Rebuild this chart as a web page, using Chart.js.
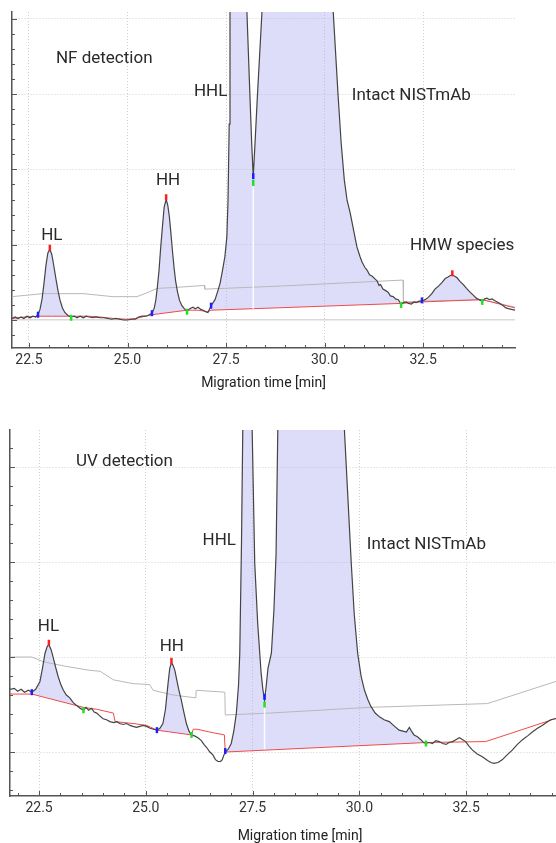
<!DOCTYPE html>
<html>
<head>
<meta charset="utf-8">
<style>
  body { margin: 0; background: #fff; overflow: hidden; width: 556px; height: 843px; }
  #nf { position: absolute; left: 0; top: 0; }
  #uv { position: absolute; left: 0; top: 400px; }
</style>
<script src="https://cdn.jsdelivr.net/npm/chart.js@4"></script>
</head>
<body>
<canvas id="nf" width="556" height="400"></canvas>
<canvas id="uv" width="600" height="443"></canvas>
<script>
// shared x axis
const xTickValues = [22.5, 25.0, 27.5, 30.0, 32.5];
const xTickLabels = ['22.5', '25.0', '27.5', '30.0', '32.5'];

// ---------- NF detection (top) ----------
const nfGridY = [0, 1, 2, 3, 4];
const nfSignal = [
  [22.07,0.02],[22.15,0.04],[22.22,0.02],[22.30,0.04],[22.37,0.02],[22.45,0.05],[22.53,0.03],[22.60,0.05],[22.67,0.04],[22.73,0.07],
  [22.78,0.14],[22.83,0.27],[22.88,0.48],[22.93,0.72],[22.98,0.89],[23.03,0.94],[23.08,0.87],[23.13,0.72],[23.19,0.53],[23.24,0.38],
  [23.29,0.26],[23.35,0.16],[23.41,0.10],[23.49,0.06],[23.57,0.04],
  [23.65,0.05],[23.72,0.03],[23.80,0.05],[23.88,0.03],[23.95,0.05],[24.03,0.04],[24.12,0.03],[24.20,0.04],[24.30,0.03],[24.40,0.03],
  [24.50,0.02],[24.60,0.01],[24.70,0.02],[24.80,0.01],[24.90,0.00],[25.00,0.00],[25.10,0.01],[25.20,0.01],[25.28,0.04],[25.37,0.05],
  [25.45,0.05],[25.52,0.06],[25.62,0.09],
  [25.68,0.16],[25.72,0.27],[25.76,0.45],[25.80,0.66],[25.84,0.95],[25.88,1.20],[25.93,1.50],[25.98,1.60],[26.02,1.53],[26.06,1.38],
  [26.10,1.16],[26.14,0.92],[26.18,0.70],[26.22,0.52],[26.27,0.37],[26.32,0.26],[26.38,0.19],[26.44,0.15],[26.51,0.12],
  [26.58,0.15],[26.66,0.17],[26.72,0.15],[26.79,0.17],[26.86,0.14],[26.92,0.13],[26.98,0.11],[27.04,0.10],[27.12,0.19],
  [27.22,0.27],[27.30,0.40],[27.35,0.49],[27.41,0.66],[27.47,0.84],[27.52,1.10],[27.55,1.59],[27.58,2.60],[27.60,4.08],[27.70,6.2],
  [27.82,7.0],[27.93,5.8],[28.03,4.08],[28.11,2.92],[28.15,2.35],[28.19,1.90],[28.24,2.40],[28.29,2.92],[28.41,4.08],[28.70,10],
  [29.10,14],[29.60,11],[30.00,6.5],[30.22,4.08],[30.34,3.00],[30.42,2.35],[30.50,1.86],[30.57,1.59],[30.65,1.42],[30.74,1.18],
  [30.82,0.97],[30.90,0.84],[30.95,0.77],[31.02,0.70],[31.08,0.66],[31.14,0.60],[31.21,0.58],[31.27,0.55],[31.33,0.52],[31.38,0.46],
  [31.42,0.47],[31.48,0.41],[31.55,0.39],[31.61,0.37],[31.67,0.32],[31.74,0.31],[31.80,0.28],[31.87,0.27],[31.94,0.21],
  [32.00,0.23],[32.07,0.24],[32.13,0.22],[32.20,0.21],[32.27,0.24],[32.32,0.23],[32.40,0.25],[32.47,0.25],
  [32.55,0.27],[32.63,0.30],[32.72,0.35],[32.80,0.41],[32.89,0.45],[32.98,0.50],[33.06,0.55],[33.13,0.57],[33.19,0.59],[33.24,0.60],
  [33.30,0.58],[33.36,0.56],[33.44,0.51],[33.52,0.47],[33.60,0.42],[33.69,0.37],[33.77,0.33],[33.85,0.29],[33.92,0.27],[34.00,0.25],
  [34.06,0.28],[34.12,0.29],[34.18,0.27],[34.25,0.28],[34.31,0.26],[34.38,0.24],[34.45,0.22],[34.53,0.19],[34.60,0.16],[34.66,0.15],
  [34.74,0.14],[34.83,0.13]
];
const nfBaseline = [
  [22.07,0.02],[22.40,0.04],[22.73,0.05],[23.10,0.05],[23.57,0.05],[24.00,0.05],[24.30,0.04],[24.65,0.02],[24.99,0.01],[25.20,0.02],
  [25.37,0.04],[25.62,0.07],[26.51,0.13],[26.79,0.13],[27.04,0.11],[27.12,0.13],[31.94,0.22],[32.47,0.24],[34.00,0.27],[34.83,0.16]
];
const nfCurrent = [
  [22.07,0.31],[22.86,0.35],[23.87,0.35],[24.63,0.31],[25.24,0.31],[25.49,0.36],[25.75,0.42],[26.15,0.43],[26.71,0.45],[26.95,0.46],
  [26.96,0.41],[28.87,0.45],[31.99,0.53],[32.00,0.24],[32.47,0.25],[34.00,0.27],[34.83,0.17]
];
const nfApex = [[23.03,0.96],[25.98,1.63],[33.24,0.62]];
const nfStart = [[22.73,0.07],[25.62,0.09],[27.12,0.19],[28.19,1.91],[32.47,0.26]];
const nfEnd = [[23.57,0.03],[26.51,0.11],[28.19,1.82],[31.94,0.20],[34.00,0.24]];
const nfPeaks = [[22.73,23.57],[25.62,26.51],[27.12,31.94],[32.47,34.00]];
const nfDrop = [[28.19,1.79],[28.19,0.15]];
const nfLabels = [
  ['NF detection', 24.41, 3.47], ['HHL', 27.11, 3.03], ['HH', 26.03, 1.85], ['HL', 23.08, 1.12],
  ['Intact NISTmAb', 32.2, 2.98], ['HMW species', 33.49, 0.99]
];

// ---------- UV detection (bottom) ----------
const uvGridY = [0, 1, 2, 3];
const uvSignal = [
  [21.82,0.66],[21.92,0.67],[22.00,0.64],[22.08,0.66],[22.16,0.63],[22.25,0.65],[22.33,0.63],
  [22.42,0.66],[22.52,0.74],[22.58,0.88],[22.64,1.04],[22.69,1.11],[22.73,1.13],[22.78,1.08],[22.83,1.00],[22.89,0.89],[22.95,0.79],
  [23.01,0.71],[23.07,0.65],[23.14,0.60],[23.22,0.57],[23.30,0.52],[23.38,0.49],[23.46,0.46],[23.54,0.44],
  [23.60,0.47],[23.66,0.44],[23.73,0.46],[23.79,0.42],[23.85,0.41],[23.92,0.38],[24.00,0.35],[24.08,0.34],[24.16,0.32],[24.25,0.31],
  [24.32,0.32],[24.39,0.30],[24.47,0.29],[24.55,0.30],[24.63,0.28],[24.70,0.27],[24.78,0.26],[24.86,0.27],[24.94,0.28],[25.02,0.27],
  [25.10,0.25],[25.18,0.24],[25.26,0.23],
  [25.33,0.25],[25.40,0.30],[25.46,0.45],[25.52,0.72],[25.56,0.88],[25.60,0.94],[25.64,0.91],[25.68,0.86],[25.72,0.77],[25.77,0.66],
  [25.83,0.55],[25.89,0.42],[25.95,0.30],[26.01,0.22],[26.07,0.18],
  [26.14,0.17],[26.22,0.15],[26.30,0.12],[26.36,0.08],[26.42,0.05],[26.50,0.00],[26.57,-0.03],[26.63,-0.08],[26.69,-0.10],[26.75,-0.10],
  [26.79,-0.08],[26.83,-0.03],[26.86,0.00],
  [26.93,0.03],[27.00,0.09],[27.06,0.22],[27.12,0.41],[27.17,0.70],[27.20,1.04],[27.24,2.20],[27.27,3.39],[27.38,5.0],[27.49,3.39],
  [27.55,1.99],[27.62,1.35],[27.70,0.83],[27.74,0.66],[27.78,0.55],[27.82,0.70],[27.86,0.88],[27.94,1.04],[28.00,1.50],[28.05,2.09],
  [28.09,3.39],[28.40,8],[28.80,12],[29.30,10],[29.65,3.39],[29.81,1.99],[29.88,1.45],[29.96,1.04],[30.04,0.80],[30.12,0.65],
  [30.20,0.55],[30.27,0.48],[30.37,0.41],[30.47,0.37],[30.58,0.34],[30.70,0.32],[30.80,0.28],[30.93,0.23],[31.02,0.22],[31.10,0.21],
  [31.17,0.26],[31.22,0.22],[31.28,0.18],[31.36,0.16],[31.44,0.13],[31.50,0.10],[31.56,0.09],
  [31.64,0.10],[31.71,0.09],[31.79,0.12],[31.87,0.11],[31.95,0.09],[32.03,0.08],[32.10,0.10],[32.18,0.11],[32.26,0.13],[32.34,0.15],
  [32.42,0.13],[32.49,0.11],[32.57,0.06],[32.65,0.02],[32.76,-0.02],[32.88,-0.05],[33.00,-0.09],[33.08,-0.11],[33.15,-0.12],[33.25,-0.11],
  [33.35,-0.08],[33.46,-0.03],[33.58,0.02],[33.70,0.08],[33.82,0.13],[33.94,0.17],[34.05,0.21],[34.17,0.25],[34.28,0.28],[34.38,0.31],
  [34.48,0.34],[34.58,0.35],[34.80,0.38],[35.10,0.42],[35.40,0.45]
];
const uvBaseline = [
  [21.82,0.61],[22.33,0.61],[23.54,0.47],[23.85,0.45],[24.24,0.41],[24.28,0.32],[24.70,0.30],[25.02,0.28],[25.26,0.23],[26.07,0.18],
  [26.11,0.24],[26.20,0.24],[26.50,0.21],[26.84,0.18],[26.86,0.00],[31.56,0.10],[32.96,0.11],[34.58,0.35],[35.40,0.45]
];
const uvCurrent = [
  [21.82,1.00],[22.33,1.00],[22.60,0.95],[23.15,0.90],[23.69,0.86],[23.93,0.85],[24.24,0.76],[24.70,0.72],[25.09,0.71],[25.17,0.65],
  [25.64,0.60],[26.17,0.57],[26.18,0.65],[26.85,0.63],[26.86,0.39],[27.90,0.41],[30.23,0.47],[33.00,0.51],[34.58,0.74],[35.40,0.86]
];
const uvApex = [[22.73,1.15],[25.60,0.96]];
const uvStart = [[22.33,0.63],[25.26,0.23],[26.86,0.01],[27.78,0.58]];
const uvEnd = [[23.54,0.44],[26.07,0.18],[27.78,0.50],[31.56,0.09]];
const uvPeaks = [[22.33,23.54],[25.26,26.07],[26.86,31.56]];
const uvDrop = [[27.78,0.47],[27.78,0.03]];
const uvLabels = [
  ['UV detection', 24.50, 3.06], ['HHL', 26.72, 2.22], ['Intact NISTmAb', 31.57, 2.18],
  ['HL', 22.72, 1.32], ['HH', 25.61, 1.11]
];

Chart.defaults.font.family = 'Roboto, sans-serif';

function pts(arr) { return arr.map(p => ({ x: p[0], y: p[1] })); }

function marker(arr, color) {
  return { data: pts(arr), showLine: false, pointStyle: 'line', rotation: 90, pointRadius: 3,
    pointBorderWidth: 2.5, pointBorderColor: color, borderColor: color };
}

function buildDatasets(sig, base, cur, apex, start, end, peaks, drop) {
  const ds = [
    marker(apex, '#ff1e1e'),
    marker(start, '#1e1eff'),
    marker(end, '#22e022'),
    { data: pts(sig), borderColor: '#444', borderWidth: 1.2 },
    { data: pts(drop), borderColor: 'rgba(255,255,255,0.9)', borderWidth: 1.5 },
    { data: pts(base), borderColor: '#f04a4a', borderWidth: 1 },
    { data: pts(cur), borderColor: '#b8b8b8', borderWidth: 1 }
  ];
  // shaded peak areas, filled down to the red baseline (dataset 5)
  peaks.forEach(r => ds.push({
    data: pts(sig.filter(p => p[0] >= r[0] && p[0] <= r[1])),
    borderWidth: 0, fill: { target: 5 }, backgroundColor: 'rgba(165,165,240,0.38)'
  }));
  return ds;
}

const peakLabels = {
  id: 'peakLabels',
  afterDatasetsDraw(chart, args, opts) {
    const { ctx, scales: { x, y } } = chart;
    ctx.save();
    ctx.font = '17px Roboto, sans-serif';
    ctx.fillStyle = '#2a2a2a';
    ctx.textAlign = 'center';
    ctx.textBaseline = 'middle';
    opts.items.forEach(l => ctx.fillText(l[0], x.getPixelForValue(l[1]), y.getPixelForValue(l[2])));
    ctx.restore();
  }
};

// tick marks drawn inside the plot, minor every 0.5 min / 0.2 units
const innerTicks = {
  id: 'innerTicks',
  afterDraw(chart) {
    const { ctx, chartArea: a, scales: { x, y } } = chart;
    ctx.save();
    ctx.strokeStyle = '#555';
    ctx.lineWidth = 1;
    ctx.beginPath();
    for (let i = Math.ceil(x.min * 2); i <= x.max * 2; i++) {
      const px = Math.round(x.getPixelForValue(i / 2)) + 0.5;
      const len = i % 5 === 0 ? 5 : 3;
      ctx.moveTo(px, a.bottom); ctx.lineTo(px, a.bottom - len);
    }
    for (let i = Math.ceil(y.min * 5); i <= y.max * 5; i++) {
      const py = Math.round(y.getPixelForValue(i / 5)) + 0.5;
      const len = i % 5 === 0 ? 5 : 3;
      ctx.moveTo(a.left, py); ctx.lineTo(a.left + len, py);
    }
    ctx.stroke();
    ctx.restore();
  }
};

function makeChart(id, o) {
  return new Chart(document.getElementById(id), {
    type: 'line',
    data: { datasets: o.datasets },
    plugins: [peakLabels, innerTicks],
    options: {
      responsive: false,
      animation: false,
      devicePixelRatio: 1,
      layout: { padding: o.padding },
      elements: { point: { radius: 0 }, line: { tension: 0, fill: false } },
      plugins: { legend: { display: false }, tooltip: { enabled: false }, peakLabels: { items: o.labels } },
      scales: {
        x: {
          type: 'linear', min: o.xr[0], max: o.xr[1],
          afterBuildTicks: s => { s.ticks = xTickValues.map(v => ({ value: v })); },
          afterFit: s => { s.height = o.axisH; },
          grid: { color: '#d0d0d0', lineWidth: 1, drawTicks: false },
          border: { color: '#555', width: 1.5, dash: [1, 2] },
          ticks: { color: '#333', font: { size: 14 }, padding: 4, maxRotation: 0, autoSkip: false,
            callback: (v, i) => xTickLabels[i] },
          title: { display: true, text: 'Migration time [min]', color: '#222',
            font: { size: 14, lineHeight: 1 }, padding: { top: 0, bottom: o.titlePad } }
        },
        y: {
          type: 'linear', min: o.yr[0], max: o.yr[1],
          afterBuildTicks: s => { s.ticks = o.gridY.map(v => ({ value: v })); },
          afterFit: s => { s.width = 0; },
          grid: {
            drawTicks: false,
            color: c => (o.solidZero && c.tick && c.tick.value === 0) ? '#dadada' : '#d0d0d0',
            lineWidth: c => (o.solidZero && c.tick && c.tick.value === 0) ? 1.5 : 1
          },
          border: { color: '#555', width: 1.5,
            dash: c => (o.solidZero && c.tick && c.tick.value === 0) ? [] : [1, 2] },
          ticks: { display: false }
        }
      }
    }
  });
}

makeChart('nf', {
  datasets: buildDatasets(nfSignal, nfBaseline, nfCurrent, nfApex, nfStart, nfEnd, nfPeaks, nfDrop),
  labels: nfLabels, gridY: nfGridY, solidZero: true,
  xr: [22.07, 34.83], yr: [-0.372, 4.09],
  padding: { left: 12, top: 12, right: 41, bottom: 0 }, axisH: 52, titlePad: 10
});

makeChart('uv', {
  datasets: buildDatasets(uvSignal, uvBaseline, uvCurrent, uvApex, uvStart, uvEnd, uvPeaks, uvDrop),
  labels: uvLabels, gridY: uvGridY, solidZero: false,
  xr: [21.82, 35.40], yr: [-0.463, 3.39],
  padding: { left: 10, top: 30, right: 10, bottom: 0 }, axisH: 47, titlePad: 0
});
</script>
</body>
</html>
